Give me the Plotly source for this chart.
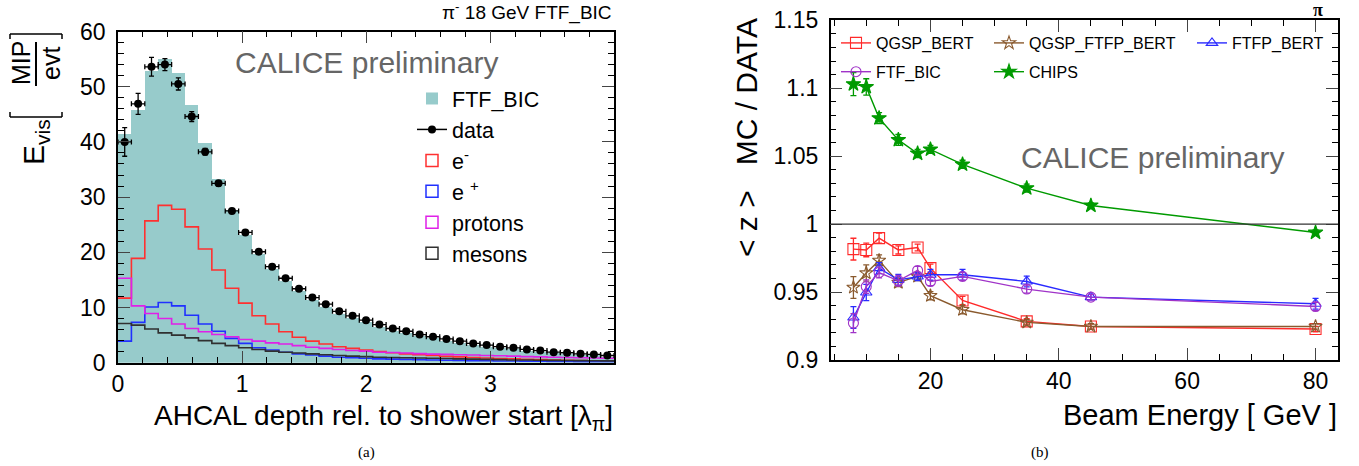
import numpy as np
import plotly.graph_objects as go

W, H = 1359, 466

# ---------------- panel (a) data ----------------
bin_width = 0.108
ftf_bic_mc = [41.5, 45.8, 53.0, 55.2, 52.6, 46.7, 39.9, 33.3, 27.8, 23.3, 19.8, 17.0, 14.9, 13.0,
              11.4, 10.2, 9.0, 8.1, 7.4, 6.6, 5.9, 5.4, 4.9, 4.5, 4.1, 3.7, 3.3, 3.0, 2.7, 2.5,
              2.2, 2.0, 1.8, 1.6, 1.5, 1.4, 1.2]
data_vals = [40.0, 46.9, 53.6, 54.0, 50.5, 44.6, 38.2, 32.5, 27.5, 23.6, 20.1, 17.4, 15.3, 13.4,
             11.8, 10.6, 9.3, 8.5, 7.7, 6.9, 6.2, 5.7, 5.1, 4.7, 4.3, 3.9, 3.5, 3.2, 2.9, 2.7,
             2.4, 2.2, 1.9, 1.8, 1.6, 1.5, 1.3]
data_err = [2.6, 1.9, 1.7, 1.1, 1.1, 0.9, 0.6, 0.5, 0.4, 0.35, 0.3, 0.3, 0.25, 0.25, 0.2, 0.2,
            0.2, 0.2, 0.15, 0.15, 0.15, 0.15, 0.15, 0.1, 0.1, 0.1, 0.1, 0.1, 0.1, 0.1, 0.1, 0.1,
            0.1, 0.1, 0.1, 0.1, 0.1]
e_minus = [11.7, 18.9, 25.7, 28.5, 27.8, 24.6, 20.6, 16.8, 13.5, 10.8, 8.5, 7.0, 5.6, 4.6, 3.9,
           3.4, 2.9, 2.6, 2.3, 2.0, 1.8, 1.6, 1.45, 1.3, 1.15, 1.05, 0.95, 0.85, 0.75, 0.7, 0.62,
           0.55, 0.5, 0.45, 0.4, 0.36, 0.33]
e_plus = [3.9, 7.3, 10.1, 10.9, 10.3, 8.6, 7.0, 5.7, 4.4, 3.5, 2.7, 2.3, 1.9, 1.6, 1.4, 1.2, 1.0,
          0.9, 0.8, 0.7, 0.65, 0.6, 0.55, 0.5, 0.45, 0.42, 0.38, 0.35, 0.32, 0.3, 0.28, 0.25,
          0.23, 0.21, 0.2, 0.18, 0.16]
protons = [15.3, 10.3, 8.9, 8.0, 7.0, 6.2, 5.6, 5.1, 4.7, 4.2, 3.9, 3.6, 3.4, 3.1, 2.8, 2.6, 2.4,
           2.2, 2.1, 1.9, 1.85, 1.75, 1.65, 1.55, 1.5, 1.45, 1.4, 1.3, 1.25, 1.2, 1.1, 1.05, 1.0,
           0.95, 0.9, 0.85, 0.8]
mesons = [7.1, 6.8, 6.1, 5.4, 5.0, 4.5, 4.0, 3.5, 3.1, 2.7, 2.4, 2.1, 1.9, 1.75, 1.6, 1.45, 1.3,
          1.2, 1.1, 1.0, 0.95, 0.9, 0.85, 0.8, 0.75, 0.7, 0.65, 0.6, 0.55, 0.5, 0.48, 0.45, 0.42,
          0.4, 0.38, 0.35, 0.33]

# ---------------- panel (b) data ----------------
energies = [8, 10, 12, 15, 18, 20, 25, 35, 45, 80]
qgsp_bert = [0.9816, 0.981, 0.9897, 0.981, 0.9828, 0.9676, 0.9438, 0.9284, 0.9247, 0.9228]
qgsp_bert_err = [0.008, 0.005, 0.0037, 0.003, 0.0025, 0.003, 0.003, 0.002, 0.002, 0.002]
qgsp_ftfp_bert = [0.9534, 0.964, 0.9733, 0.957, 0.9615, 0.9473, 0.937, 0.9277, 0.9247, 0.9247]
qgsp_ftfp_bert_err = [0.008, 0.006, 0.004, 0.003, 0.003, 0.003, 0.003, 0.002, 0.002, 0.002]
ftfp_bert = [0.9313, 0.9497, 0.9676, 0.959, 0.9615, 0.9627, 0.9627, 0.9578, 0.9463, 0.9414]
ftfp_bert_err = [0.008, 0.006, 0.004, 0.004, 0.003, 0.004, 0.004, 0.004, 0.002, 0.004]
ftf_bic = [0.9272, 0.954, 0.9644, 0.9583, 0.9659, 0.9578, 0.9615, 0.9522, 0.9463, 0.9394]
ftf_bic_err = [0.007, 0.005, 0.004, 0.004, 0.003, 0.003, 0.003, 0.003, 0.002, 0.003]
chips = [1.103, 1.101, 1.078, 1.062, 1.052, 1.055, 1.044, 1.0265, 1.0137, 0.9938]
chips_err = [0.0085, 0.006, 0.004, 0.004, 0.003, 0.003, 0.003, 0.003, 0.002, 0.002]

FONT = "Liberation Sans, Arial, sans-serif"
SERIF = "Liberation Serif, Times New Roman, serif"

def px(x):
    return x / W

def py(y):
    return 1 - y / H

nb = len(data_vals)
centers = (np.arange(nb) + 0.5) * bin_width
edges = np.arange(nb + 1) * bin_width

fig = go.Figure()

# (a) histogram
fig.add_trace(go.Bar(x=centers, y=ftf_bic_mc, width=bin_width, name="FTF_BIC",
                     marker=dict(color="#97cbcb", line=dict(width=0)),
                     xaxis="x", yaxis="y", legend="legend"))
# legend-only entry for data
fig.add_trace(go.Scatter(x=[None], y=[None], mode="lines+markers", name="data",
                         line=dict(color="black", width=1.5),
                         marker=dict(color="black", size=8), legend="legend",
                         xaxis="x", yaxis="y"))
comp = [("e<sup>-</sup>", e_minus, "#ff3030"), ("e <sup>+</sup>", e_plus, "#2030ff"),
        ("protons", protons, "#e020e8"), ("mesons", mesons, "#303030")]
for name, vals, col in comp:
    fig.add_trace(go.Bar(x=[None], y=[None], name=name, legend="legend",
                         marker=dict(color="rgba(0,0,0,0)", line=dict(color=col, width=1.5)),
                         xaxis="x", yaxis="y"))
for name, vals, col in comp:
    fig.add_trace(go.Scatter(x=edges, y=list(vals) + [vals[-1]], mode="lines",
                             line=dict(color=col, width=1.6, shape="hv"),
                             showlegend=False, xaxis="x", yaxis="y"))
fig.add_trace(go.Scatter(x=centers, y=data_vals, mode="markers", name="data",
                         marker=dict(color="black", size=8),
                         error_x=dict(type="constant", value=bin_width / 2, color="black",
                                      thickness=1.3, width=2.5),
                         error_y=dict(type="data", array=data_err, color="black",
                                      thickness=1.3, width=2.5),
                         showlegend=False, xaxis="x", yaxis="y"))

# (b)
series = [
    ("QGSP_BERT", qgsp_bert, qgsp_bert_err, "#ff2a2a", "square-open", 11, "legend2"),
    ("QGSP_FTFP_BERT", qgsp_ftfp_bert, qgsp_ftfp_bert_err, "#8a5a2e", "star-open", 10, "legend3"),
    ("FTFP_BERT", ftfp_bert, ftfp_bert_err, "#2a2aff", "triangle-up-open", 10, "legend4"),
    ("FTF_BIC", ftf_bic, ftf_bic_err, "#a033c8", "circle-open", 10, "legend2"),
    ("CHIPS", chips, chips_err, "#009a00", "star", 11, "legend3"),
]
for i, (name, vals, err, col, sym, size, leg) in enumerate(series):
    fig.add_trace(go.Scatter(x=energies, y=vals, mode="lines+markers", name=name,
                             line=dict(color=col, width=1.4),
                             marker=dict(color=col, symbol=sym, size=size,
                                         line=dict(color=col, width=1.1)),
                             error_y=dict(type="data", array=err, color=col,
                                          thickness=1.3, width=3),
                             legend=leg, legendgroup=name,
                             xaxis="x2", yaxis="y2"))

axis_common = dict(showline=True, linecolor="black", linewidth=1.5, mirror="allticks",
                   ticks="inside", showgrid=False, zeroline=False, automargin=False,
                   tickfont=dict(family=FONT, size=23, color="black"))

fig.update_layout(
    width=W, height=H, margin=dict(l=0, r=0, t=0, b=0, autoexpand=False),
    paper_bgcolor="white", plot_bgcolor="white", barmode="overlay", bargap=0,
    xaxis=dict(domain=[px(118), px(614)], range=[0, 3.996], dtick=1, tick0=0, ticklen=12,
               minor=dict(dtick=0.2, ticklen=6, ticks="inside", tickcolor="black"),
               anchor="y", **axis_common),
    yaxis=dict(domain=[py(362.7), py(31.5)], range=[0, 60], dtick=10, tick0=0, ticklen=12,
               minor=dict(dtick=2, ticklen=6, ticks="inside", tickcolor="black"),
               anchor="x", ticklabelstandoff=6, **axis_common),
    xaxis2=dict(domain=[px(830.7), px(1338)], range=[4.46, 83.5], dtick=20, tick0=0, ticklen=12,
                minor=dict(dtick=5, ticklen=6, ticks="inside", tickcolor="black"),
                anchor="y2", **axis_common),
    yaxis2=dict(domain=[py(360), py(20.3)], range=[0.9, 1.15], dtick=0.05, tick0=0.9,
                ticklen=12, minor=dict(dtick=0.01, ticklen=6, ticks="inside", tickcolor="black"),
                anchor="x2", ticklabelstandoff=6, **axis_common),
    legend=dict(x=px(412), y=py(78), xanchor="left", yanchor="top", bgcolor="rgba(0,0,0,0)",
                font=dict(family=FONT, size=21.5, color="black"), itemwidth=30,
                traceorder="normal"),
    legend2=dict(x=px(836), y=py(26), xanchor="left", yanchor="top", bgcolor="rgba(0,0,0,0)",
                 font=dict(family=FONT, size=16, color="black"), itemwidth=30,
                 tracegroupgap=5),
    legend3=dict(x=px(989), y=py(26), xanchor="left", yanchor="top", bgcolor="rgba(0,0,0,0)",
                 font=dict(family=FONT, size=16, color="black"), itemwidth=30,
                 tracegroupgap=5),
    legend4=dict(x=px(1192), y=py(26), xanchor="left", yanchor="top", bgcolor="rgba(0,0,0,0)",
                 font=dict(family=FONT, size=16, color="black"), itemwidth=30,
                 tracegroupgap=5),
)

# reference line at 1
fig.add_shape(type="line", xref="x2 domain", yref="y2", x0=0, x1=1, y0=1, y1=1,
              line=dict(color="#333333", width=1.3))

ann = []
def A(text, x, y, size, xanchor="center", yanchor="middle", angle=0, color="black", family=FONT):
    ann.append(dict(text=text, x=px(x), y=py(y), xref="paper", yref="paper", showarrow=False,
                    xanchor=xanchor, yanchor=yanchor, textangle=angle,
                    font=dict(family=family, size=size, color=color)))

A("CALICE preliminary", 367, 62, 30, color="#666666")
A("CALICE preliminary", 1152, 158, 30, color="#666666")
A("π<sup>-</sup> 18 GeV FTF_BIC", 614, 12, 19, xanchor="right")
A("<b>π</b>", 1318, 10, 18, family=SERIF)
A("AHCAL depth rel. to shower start [λ<sub>π</sub>]", 615, 398, 28, xanchor="right", yanchor="top")
A("Beam Energy [ GeV ]", 1339, 397, 29, xanchor="right", yanchor="top")
A("&lt; z &gt;   MC / DATA", 746, 138, 30, angle=-90)
A("E<sub>vis</sub>", 36, 142, 30, angle=-90)
A("MIP", 21, 63, 25, angle=-90)
A("evt", 51, 63, 25, angle=-90)
A("(a)", 366, 452, 15, family=SERIF)
A("(b)", 1040, 452, 15, family=SERIF)
fig.update_layout(annotations=ann)

# fraction bar and brackets for y title of (a)
def line(x0, y0, x1, y1, w=1.5):
    fig.add_shape(type="line", xref="paper", yref="paper", x0=px(x0), y0=py(y0),
                  x1=px(x1), y1=py(y1), line=dict(color="black", width=w))
line(36, 42, 36, 86, 2)
line(10, 117, 62, 117)
line(10, 117, 10, 112)
line(62, 117, 62, 112)
line(10, 34, 62, 34)
line(10, 34, 10, 39)
line(62, 34, 62, 39)

fig.write_html("out.html", config={"displayModeBar": False},
               post_script="document.body.style.margin='0';document.body.style.overflow='hidden';")
